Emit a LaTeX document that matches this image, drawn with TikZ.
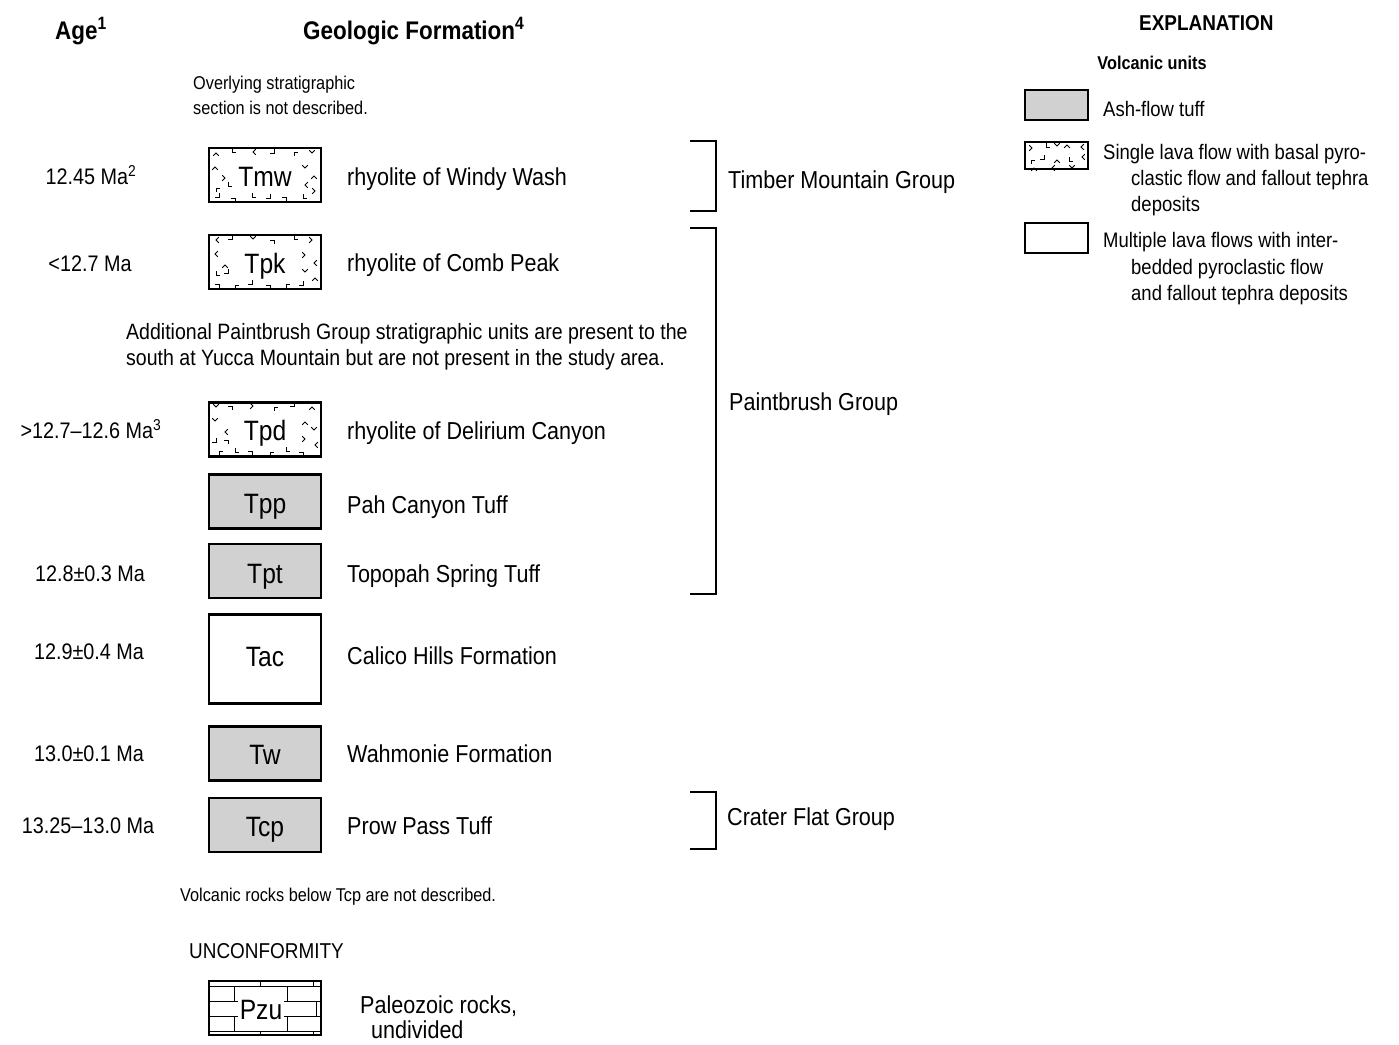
\documentclass[tikz,border=0pt]{standalone}
\usepackage{fontspec}
\setmainfont{Liberation Sans}[FakeStretch=0.88]
\definecolor{ashgray}{RGB}{209,209,209}
\newcommand\lavamarks[3]{%
  \foreach \dx/\dy/\r in {8/6/0,24/5/135,45/5/90,66/6/225,86/5/45,104/6/180,
      7/20/0,17/31/270,97/21/180,106/29/0,
      8/41/45,20/39/135,97/38/90,107/44/270,
      11/50/225,27/51/315,44/50/135,62/51/225,78/50/315,95/51/135}
    \pic[rotate=\r+#3] at (#1+\dx,#2+\dy) {vm};}
\begin{document}
\begin{tikzpicture}[x=1pt,y=-1pt,
  box/.style={draw,line width=2.6pt,minimum width=112pt,minimum height=54pt,inner sep=0pt},
  ash/.style={box,fill=ashgray},
  lab/.style={anchor=base,inner sep=0pt,font=\fontsize{28}{30}\selectfont},
  txt/.style={anchor=base west,inner sep=0pt,font=\fontsize{24.5}{26}\selectfont},
  agetxt/.style={anchor=base,inner sep=0pt,font=\fontsize{22.5}{24}\selectfont},
  small/.style={anchor=base west,inner sep=0pt,font=\fontsize{18.5}{21}\selectfont},
  head/.style={anchor=base west,inner sep=0pt,font=\fontsize{25.5}{28}\selectfont\bfseries},
  brk/.style={line width=2.2pt},
  legbox/.style={draw,line width=1.3pt,minimum width=63pt,minimum height=30pt,inner sep=0pt},
  legtxt/.style={anchor=base west,inner sep=0pt,font=\fontsize{21}{24}\selectfont},
  brick/.style={line width=1pt},
  vm/.pic={\draw[line width=1pt] (-2.8,2.8) -- (0,0) -- (2.8,2.8);}
]
\useasboundingbox (0,0) rectangle (1399,1044);

% headers
\node[head] (hage) at (55,39) {Age\textsuperscript{1}};
\node[head] (hgeo) at (303,39) {Geologic Formation\textsuperscript{4}};
\node[head,font=\fontsize{21.5}{24}\selectfont\bfseries] (hexp) at (1139,30) {EXPLANATION};

\node[small] (over1) at (193,89) {Overlying stratigraphic};
\node[small] (over2) at (193,114) {section is not described.};

% Tmw
\node[box] (tmw) at (265,175) {};
\lavamarks{208}{147}{0}
\node[lab] (tmwl) at (265,186) {Tmw};
\node[agetxt] (atmw) at (91,184) {12.45 Ma\textsuperscript{2}};
\node[txt] (ftmw) at (347,185) {rhyolite of Windy Wash};

% Tpk
\node[box] (tpk) at (265,262) {};
\lavamarks{208}{234}{90}
\node[lab] (tpkl) at (265,273) {Tpk};
\node[agetxt] (atpk) at (90,271) {<12.7 Ma};
\node[txt] (ftpk) at (347,271) {rhyolite of Comb Peak};

\node[txt,font=\fontsize{22.2}{26}\selectfont] (add1) at (126,339) {Additional Paintbrush Group stratigraphic units are present to the};
\node[txt,font=\fontsize{22.2}{26}\selectfont] (add2) at (126,365) {south at Yucca Mountain but are not present in the study area.};

% Tpd
\node[box] (tpd) at (265,429.5) {};
\lavamarks{208}{401}{180}
\node[lab] (tpdl) at (265,440) {Tpd};
\node[agetxt] (atpd) at (91,438) {>12.7--12.6 Ma\textsuperscript{3}};
\node[txt] (ftpd) at (347,439) {rhyolite of Delirium Canyon};

% Tpp
\node[ash] (tpp) at (265,501.5) {};
\node[lab] (tppl) at (265,513) {Tpp};
\node[txt] (ftpp) at (347,513) {Pah Canyon Tuff};

% Tpt
\node[ash] (tpt) at (265,571) {};
\node[lab] (tptl) at (265,583) {Tpt};
\node[agetxt] (atpt) at (90,581) {12.8\textpm0.3 Ma};
\node[txt] (ftpt) at (347,582) {Topopah Spring Tuff};

% Tac
\node[box,minimum height=89pt] (tac) at (265,659) {};
\node[lab] (tacl) at (265,666) {Tac};
\node[agetxt] (atac) at (89,659) {12.9\textpm0.4 Ma};
\node[txt] (ftac) at (347,664) {Calico Hills Formation};

% Tw
\node[ash] (tw) at (265,753.5) {};
\node[lab] (twl) at (265,764) {Tw};
\node[agetxt] (atw) at (89,761) {13.0\textpm0.1 Ma};
\node[txt] (ftw) at (347,762) {Wahmonie Formation};

% Tcp
\node[ash] (tcp) at (265,825) {};
\node[lab] (tcpl) at (265,836) {Tcp};
\node[agetxt] (atcp) at (88,833) {13.25--13.0 Ma};
\node[txt] (ftcp) at (347,834) {Prow Pass Tuff};

\node[small] (below) at (180,901) {Volcanic rocks below Tcp are not described.};
\node[anchor=base west,inner sep=0pt,font=\fontsize{21.5}{24}\selectfont] (unc) at (189,958) {UNCONFORMITY};

% Pzu
\draw[brick] (209,986) -- (321,986) (209,1001) -- (321,1001) (209,1016) -- (321,1016) (209,1031) -- (321,1031);
\draw[brick] (260,980) -- (260,986) (313,980) -- (313,986)
  (234,986) -- (234,1001) (287,986) -- (287,1001)
  (260,1001) -- (260,1016) (316,1001) -- (316,1016)
  (234,1016) -- (234,1031) (287,1016) -- (287,1031)
  (260,1031) -- (260,1036) (313,1031) -- (313,1036);
\node[fill=white,inner sep=1.5pt,font=\fontsize{28}{30}\selectfont,anchor=base] (pzulab) at (261,1019) {Pzu};
\node[box] (pzu) at (265,1008) {};
\node[txt] (fpzu1) at (360,1013) {Paleozoic rocks,};
\node[txt] (fpzu2) at (371,1038) {undivided};

% brackets
\draw[brk] (690,141) -- (716,141) -- (716,211) -- (690,211);
\draw[brk] (690,228) -- (716,228) -- (716,594) -- (690,594);
\draw[brk] (690,792) -- (716,792) -- (716,849) -- (690,849);
\node[txt] (gtm) at (728,188) {Timber Mountain Group};
\node[txt] (gpb) at (729,410) {Paintbrush Group};
\node[txt] (gcf) at (727,825) {Crater Flat Group};

% legend
\node[anchor=base,inner sep=0pt,font=\fontsize{18.5}{21}\selectfont\bfseries] (volc) at (1152,69) {Volcanic units};
\node[legbox,fill=ashgray] (l1) at (1056.5,105) {};
\node[legtxt] (l1t) at (1103,116) {Ash-flow tuff};
\node[legbox,minimum height=27pt] (l2) at (1056.5,155.5) {};
\foreach \dx/\dy/\r in {8/7/270,22/6/135,33/5/180,43/4/0,57/6/90,
    7/19/45,20/18/225,33/19/0,45/20/135,58/16/90,10/27/0,28/27/90,48/27/180}
  \pic[rotate=\r] at (1024+\dx,141+\dy) {vm};
\node[legtxt] (l2a) at (1103,159) {Single lava flow with basal pyro-};
\node[legtxt] (l2b) at (1131,185) {clastic flow and fallout tephra};
\node[legtxt] (l2c) at (1131,211) {deposits};
\node[legbox] (l3) at (1056.5,238) {};
\node[legtxt] (l3a) at (1103,247) {Multiple lava flows with inter-};
\node[legtxt] (l3b) at (1131,274) {bedded pyroclastic flow};
\node[legtxt] (l3c) at (1131,300) {and fallout tephra deposits};
\end{tikzpicture}
\end{document}
